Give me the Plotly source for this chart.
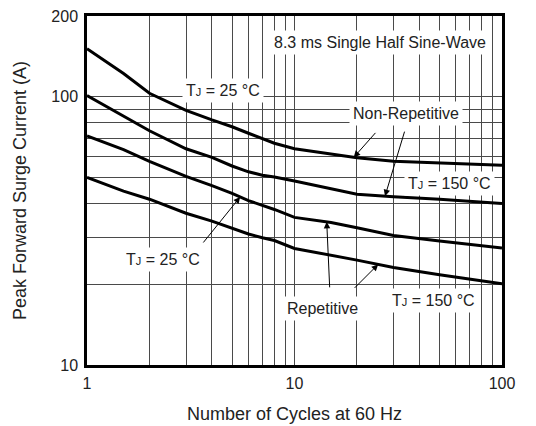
import numpy as np
import plotly.graph_objects as go

# ---- data ----
cycles = [1, 1.5, 2, 3, 4, 5, 6, 7, 8, 10, 15, 20, 30, 50, 100]
nonrep_25 = [151, 122, 103, 89, 82, 77.3, 73.1, 69.6, 67.1, 64, 61, 59.2, 57.5, 56.6, 55.5]
nonrep_150 = [101, 85, 74.7, 64, 59.4, 55.2, 52.5, 51, 50.2, 48.5, 45.5, 43.3, 42.4, 41.5, 40]
rep_25 = [71.4, 63.5, 57.4, 50.5, 46.6, 43.6, 41, 39.5, 38, 35.5, 34, 32.5, 30.4, 29, 27.3]
rep_150 = [50, 44.5, 41.5, 36.8, 34.4, 32.4, 30.8, 29.8, 29.1, 27.2, 25.7, 24.6, 23.1, 21.7, 20.1]

x_grid = [1, 2, 3, 4, 5, 6, 7, 8, 9, 10, 20, 30, 40, 50, 60, 70, 80, 90, 100]
x_labels = {1: "1", 10: "10", 100: "100"}
y_grid = [10, 20, 30, 40, 50, 60, 70, 80, 90, 100, 200]
y_labels = {10: "10", 100: "100", 200: "200"}

# ---- layout geometry (page has an 8px body margin) ----
OFF = 8
W, H = 536 - OFF, 426 - OFF
L, R, T, B = 87 - OFF, 34, 16 - OFF, 61
PW, PH = W - L - R, H - T - B
FONT = "Liberation Sans, Arial, Helvetica, sans-serif"
TXT = "#222"


def px(xp, yp):
    # page pixel -> paper fraction
    return (xp - OFF - L) / PW, (H - B - (yp - OFF)) / PH


fig = go.Figure()
for ys in [nonrep_25, nonrep_150, rep_25, rep_150]:
    fig.add_trace(go.Scatter(x=cycles, y=ys, mode="lines",
                             line=dict(color="black", width=3),
                             showlegend=False, hoverinfo="skip"))

fig.update_xaxes(type="log", range=[0, 2], automargin=False,
                 tickvals=x_grid, ticktext=[x_labels.get(v, "") for v in x_grid],
                 showgrid=True, gridcolor="#4a4a4a", gridwidth=1,
                 showline=True, linecolor="black", linewidth=2.5, mirror=True,
                 ticks="", zeroline=False, ticklabelstandoff=2,
                 ticklabeloverflow="allow",
                 tickfont=dict(family=FONT, size=16, color=TXT),
                 title=dict(text="Number of Cycles at 60 Hz", standoff=17,
                            font=dict(family=FONT, size=18, color=TXT)))
fig.update_yaxes(type="log", range=[1, np.log10(200)], automargin=False,
                 tickvals=y_grid, ticktext=[y_labels.get(v, "") for v in y_grid],
                 showgrid=True, gridcolor="#4a4a4a", gridwidth=1,
                 showline=True, linecolor="black", linewidth=2.5, mirror=True,
                 ticks="", zeroline=False, ticklabelstandoff=3,
                 ticklabeloverflow="allow",
                 tickfont=dict(family=FONT, size=16, color=TXT),
                 title=dict(text="Peak Forward Surge Current (A)", standoff=21,
                            font=dict(family=FONT, size=18, color=TXT)))

TJ = "T<span style='font-size:11px'>J</span>"
labels = [
    ("8.3 ms Single Half Sine-Wave", 380, 43),
    (TJ + " = 25 °C", 223, 90),
    ("Non-Repetitive", 406, 113),
    (TJ + " = 150 °C", 449, 183),
    (TJ + " = 25 °C", 163, 260),
    ("Repetitive", 322, 308),
    (TJ + " = 150 °C", 433, 300),
]
for text, xp, yp in labels:
    xx, yy = px(xp, yp)
    fig.add_annotation(text=text, x=xx, y=yy, xref="paper", yref="paper",
                       xanchor="center", yanchor="middle",
                       showarrow=False, bgcolor="white", borderpad=3,
                       font=dict(family=FONT, size=16, color=TXT))

# arrows: (series, x on curve, tail offset in px)
arrows = [
    (nonrep_25, 19.3, 23, -26),
    (nonrep_150, 27.3, 20, -66),
    (rep_25, 5.47, -38, 47),
    (rep_25, 14.3, 3, 67),
    (rep_150, 25.3, -25, 25),
]
lc = np.log10(cycles)
for ys, xv, axo, ayo in arrows:
    yv = np.interp(np.log10(xv), lc, np.log10(ys))
    fig.add_annotation(text="", x=np.log10(xv), y=yv, xref="x", yref="y",
                       showarrow=True, ax=axo, ay=ayo,
                       arrowhead=2, arrowsize=1.3, arrowwidth=1, arrowcolor="black",
                       standoff=0, startstandoff=0)

fig.update_layout(width=W, height=H, margin=dict(l=L, r=R, t=T, b=B),
                  plot_bgcolor="white", paper_bgcolor="white",
                  font=dict(family=FONT, color=TXT))
fig.write_html("out.html")
